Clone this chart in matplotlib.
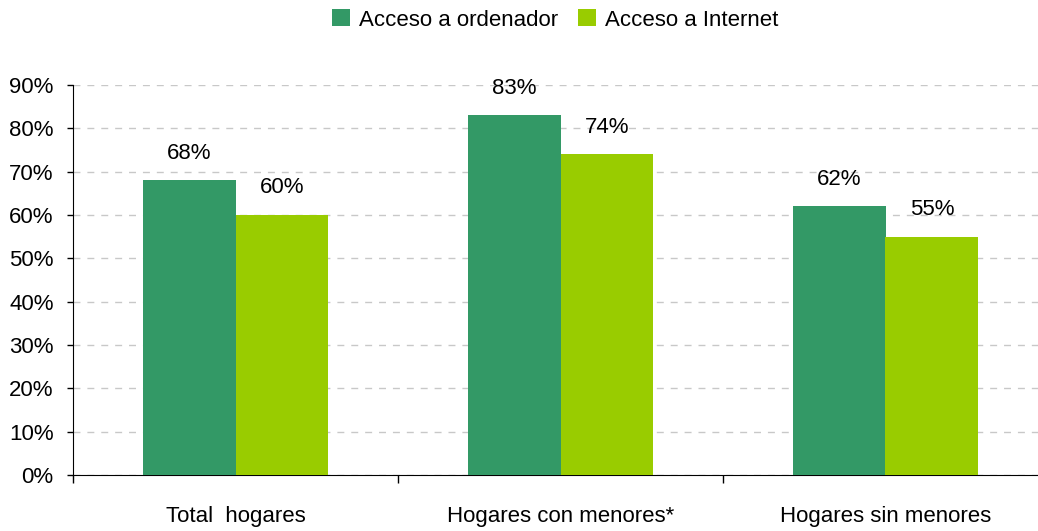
import matplotlib.pyplot as plt
import numpy as np
from matplotlib.ticker import FuncFormatter

plt.rcParams['font.family'] = ['Liberation Sans', 'DejaVu Sans']

categorias = ['Total  hogares', 'Hogares con menores*', 'Hogares sin menores']
ordenador = [68, 83, 62]
internet = [60, 74, 55]
series = ['Acceso a ordenador', 'Acceso a Internet']
colores = ['#339966', '#99CC00']

fig = plt.figure(figsize=(10.38, 5.31), dpi=100)
ax = fig.add_axes([73/1038, 1-475/531, 975/1038, 390/531])

x = np.arange(len(categorias))
w = 0.286
b1 = ax.bar(x - w/2, np.array(ordenador)/100, w, color=colores[0], label=series[0], zorder=3)
b2 = ax.bar(x + w/2, np.array(internet)/100, w, color=colores[1], label=series[1], zorder=3)

for barras, vals in ((b1, ordenador), (b2, internet)):
    for b, v in zip(barras, vals):
        ax.annotate(f'{v}%', (b.get_x() + b.get_width()/2, b.get_height()),
                    xytext=(0, 12), textcoords='offset points',
                    ha='center', va='bottom', fontsize=16)

ax.set_xlim(-0.5, len(categorias) - 0.5)
ax.set_ylim(0, 0.9)
ax.set_yticks(np.arange(0, 0.91, 0.1))
ax.yaxis.set_major_formatter(FuncFormatter(lambda v, p: f'{v*100:.0f}%'))
ax.set_xticks(x)
ax.set_xticklabels(categorias)
ax.set_xticks(np.arange(-0.5, len(categorias), 1), minor=True)
ax.tick_params(axis='x', which='major', length=0, pad=22, labelsize=16)
ax.tick_params(axis='x', which='minor', length=6, width=1, direction='out')
ax.tick_params(axis='y', length=4, width=1, pad=10, labelsize=16)

ax.grid(axis='y', color='#c8c8c8', linestyle=(0, (5, 5)), linewidth=1, zorder=0)
ax.spines['top'].set_visible(False)
ax.spines['right'].set_visible(False)

fig.legend(handles=[b1, b2], labels=series, loc='center', bbox_to_anchor=(555/1038, 1-20/531),
           ncol=2, frameon=False, fontsize=16, handlelength=0.8, handleheight=0.8,
           handletextpad=0.4, columnspacing=0.9)

fig.savefig('out.png', dpi=100)
